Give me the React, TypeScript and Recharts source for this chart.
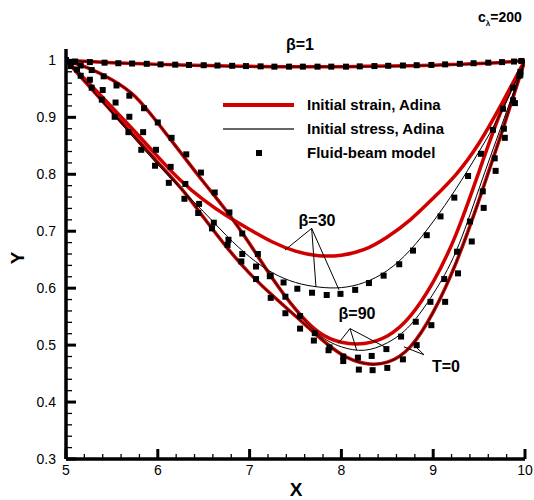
import React from "react";
import { ComposedChart, Line, Scatter, XAxis, YAxis, ReferenceLine, Customized } from "recharts";

// x grid shared by the Adina curves
const lineX = [5, 5.25, 5.5, 5.75, 6, 6.25, 6.5, 6.75, 7, 7.25, 7.5, 7.75, 8, 8.25, 8.5, 8.75, 9, 9.25, 9.5, 9.75, 10];

const beta1Strain = [1.0, 0.998, 0.996, 0.9945, 0.993, 0.992, 0.991, 0.99, 0.9895, 0.989, 0.989, 0.989, 0.989, 0.9895, 0.99, 0.9905, 0.9915, 0.993, 0.9945, 0.9965, 1.0];
const beta1Stress = [1.0, 0.998, 0.9958, 0.9942, 0.9927, 0.9916, 0.9906, 0.9896, 0.989, 0.9886, 0.9885, 0.9885, 0.9886, 0.989, 0.9896, 0.9903, 0.9912, 0.9926, 0.9942, 0.9963, 1.0];
const beta30Strain = [1.0, 0.96, 0.918, 0.875, 0.831, 0.789, 0.755, 0.727, 0.703, 0.681, 0.665, 0.657, 0.658, 0.668, 0.69, 0.72, 0.758, 0.8, 0.855, 0.925, 1.0];
const beta30Stress = [1.0, 0.955, 0.908, 0.862, 0.817, 0.775, 0.734, 0.692, 0.655, 0.627, 0.61, 0.602, 0.601, 0.61, 0.631, 0.667, 0.717, 0.775, 0.84, 0.912, 1.0];
const beta90Strain = [1.0, 0.986, 0.966, 0.937, 0.89, 0.838, 0.786, 0.735, 0.678, 0.617, 0.563, 0.523, 0.505, 0.503, 0.516, 0.551, 0.611, 0.695, 0.805, 0.915, 1.0];
const beta90Stress = [1.0, 0.986, 0.966, 0.937, 0.89, 0.838, 0.786, 0.735, 0.678, 0.617, 0.563, 0.519, 0.497, 0.491, 0.504, 0.535, 0.59, 0.665, 0.775, 0.888, 1.0];
const t0Curve = [1.0, 0.955, 0.91, 0.866, 0.821, 0.776, 0.724, 0.672, 0.626, 0.587, 0.551, 0.515, 0.484, 0.468, 0.47, 0.497, 0.558, 0.645, 0.755, 0.875, 1.0];

// fluid-beam model nodes
const beta1SqX = [5.0, 5.1, 5.26, 5.42, 5.57, 5.72, 5.88, 6.03, 6.19, 6.34, 6.5, 6.65, 6.81, 6.96, 7.12, 7.27, 7.43, 7.58, 7.74, 7.89, 8.05, 8.2, 8.36, 8.51, 8.67, 8.82, 8.98, 9.13, 9.29, 9.44, 9.6, 9.75, 9.88, 9.96];
const beta1SqY = [1.0, 0.998, 0.997, 0.996, 0.995, 0.9945, 0.994, 0.993, 0.9925, 0.992, 0.9915, 0.991, 0.9905, 0.99, 0.9895, 0.989, 0.989, 0.989, 0.989, 0.989, 0.989, 0.9895, 0.99, 0.9905, 0.991, 0.9915, 0.992, 0.993, 0.994, 0.995, 0.996, 0.997, 0.998, 0.999];

const beta30SqX = [5.0, 5.12, 5.26, 5.4, 5.54, 5.69, 5.84, 5.98, 6.14, 6.3, 6.45, 6.61, 6.77, 6.92, 7.07, 7.22, 7.37, 7.52, 7.68, 7.84, 7.99, 8.15, 8.3, 8.46, 8.63, 8.78, 8.93, 9.08, 9.23, 9.38, 9.52, 9.65, 9.76, 9.87, 9.95];
const beta30SqY = [1.0, 0.984, 0.966, 0.948, 0.926, 0.901, 0.874, 0.843, 0.813, 0.783, 0.748, 0.715, 0.685, 0.66, 0.638, 0.621, 0.61, 0.599, 0.592, 0.588, 0.59, 0.597, 0.609, 0.622, 0.642, 0.666, 0.693, 0.726, 0.759, 0.797, 0.836, 0.878, 0.915, 0.952, 0.98];

const beta90SqX = [5.0, 5.06, 5.16, 5.28, 5.41, 5.55, 5.69, 5.85, 6.0, 6.15, 6.31, 6.47, 6.62, 6.78, 6.92, 7.09, 7.23, 7.39, 7.55, 7.71, 7.87, 8.02, 8.18, 8.33, 8.49, 8.65, 8.81, 8.97, 9.12, 9.26, 9.4, 9.54, 9.67, 9.77, 9.87, 9.95];
const beta90SqY = [1.0, 0.997, 0.991, 0.983, 0.972, 0.956, 0.938, 0.916, 0.891, 0.864, 0.835, 0.803, 0.768, 0.733, 0.696, 0.66, 0.622, 0.585, 0.551, 0.521, 0.496, 0.48, 0.478, 0.481, 0.493, 0.515, 0.541, 0.576, 0.616, 0.664, 0.717, 0.77, 0.828, 0.88, 0.93, 0.975];

const t0SqX = [5.0, 5.05, 5.16, 5.28, 5.39, 5.53, 5.68, 5.82, 5.97, 6.12, 6.29, 6.44, 6.59, 6.76, 6.91, 7.07, 7.23, 7.39, 7.55, 7.7, 7.86, 8.02, 8.19, 8.34, 8.5, 8.67, 8.82, 8.98, 9.13, 9.27, 9.42, 9.55, 9.68, 9.78, 9.89, 9.94];
const t0SqY = [1.0, 0.99, 0.973, 0.952, 0.931, 0.901, 0.874, 0.843, 0.815, 0.785, 0.757, 0.732, 0.705, 0.676, 0.647, 0.616, 0.583, 0.556, 0.529, 0.508, 0.491, 0.472, 0.457, 0.456, 0.46, 0.475, 0.5, 0.535, 0.576, 0.626, 0.682, 0.741, 0.806, 0.864, 0.925, 0.973];

// callout leader lines (data coords): [apex, target]
const callouts = [
  [[7.676, 0.705], [7.386, 0.667]],
  [[7.676, 0.705], [7.723, 0.602]],
  [[7.676, 0.705], [7.974, 0.597]],
  [[8.094, 0.529], [7.966, 0.503]],
  [[8.094, 0.529], [8.167, 0.491]],
  [[8.094, 0.529], [8.494, 0.495]],
  [[8.9, 0.483], [8.68, 0.497]],
  [[8.9, 0.483], [8.79, 0.5]],
];

const xTicks = Array.from({ length: 26 }, (_, i) => Math.round((5 + i * 0.2) * 100) / 100);
const yTicks = Array.from({ length: 36 }, (_, i) => Math.round((0.3 + i * 0.02) * 1000) / 1000);

const RED = "#d10000";
const FONT = "'Liberation Sans', Arial, Helvetica, sans-serif";

const pts = (xs: number[], ys: number[]) => xs.map((x, i) => ({ x, y: ys[i] }));

function XTick({ x, y, payload }: any) {
  const v = payload.value;
  const major = Math.abs(v - Math.round(v)) < 1e-6;
  return (
    <g>
      <line x1={x} x2={x} y1={y} y2={y - (major ? 10 : 5)} stroke="#000" strokeWidth={major ? 3 : 1.3} />
      {major && (
        <text x={x} y={y + 16} textAnchor="middle" fontSize={14} fontFamily={FONT} fill="#000">
          {String(v)}
        </text>
      )}
    </g>
  );
}

function YTick({ x, y, payload }: any) {
  const v = payload.value;
  const major = Math.abs(v * 10 - Math.round(v * 10)) < 1e-6;
  return (
    <g>
      <line x1={x} x2={x + (major ? 10 : 6)} y1={y} y2={y} stroke="#000" strokeWidth={major ? 3 : 1.3} />
      {major && (
        <text x={x - 10} y={y + 5} textAnchor="end" fontSize={14} fontFamily={FONT} fill="#000">
          {v === 1 ? "1" : v.toFixed(1)}
        </text>
      )}
    </g>
  );
}

const Square = ({ cx, cy }: any) => <rect x={cx - 3} y={cy - 3} width={6} height={6} fill="#000" />;

function Annotations() {
  const bold = { fontFamily: FONT, fontWeight: "bold" as const, fill: "#000" };
  return (
    <g>
      <line x1={223} x2={294} y1={105} y2={105} stroke={RED} strokeWidth={4} />
      <text x={307} y={110} fontSize={15} {...bold}>Initial strain, Adina</text>
      <line x1={223} x2={294} y1={129} y2={129} stroke="#333" strokeWidth={1.3} />
      <text x={307} y={134} fontSize={15} {...bold}>Initial stress, Adina</text>
      <rect x={256} y={150} width={6} height={6} fill="#000" />
      <text x={307} y={158} fontSize={15} {...bold}>Fluid-beam model</text>

      <text x={300} y={50} textAnchor="middle" fontSize={16} {...bold}>β=1</text>
      <text x={317} y={226} textAnchor="middle" fontSize={16} {...bold}>β=30</text>
      <text x={357} y={319} textAnchor="middle" fontSize={16} {...bold}>β=90</text>
      <text x={446} y={372} textAnchor="middle" fontSize={16} {...bold}>T=0</text>
      <text x={478} y={22} fontSize={14} {...bold}>
        c<tspan fontSize={8} dy={4}>λ</tspan>
        <tspan dy={-4} fontSize={14}>=200</tspan>
      </text>

      <text x={296} y={496} textAnchor="middle" fontSize={19} {...bold}>X</text>
      <text transform="translate(24,258) rotate(-90)" textAnchor="middle" fontSize={19} {...bold}>Y</text>
    </g>
  );
}

export default function App() {
  const strain = [beta1Strain, beta30Strain, beta90Strain, t0Curve];
  const stress = [beta1Stress, beta30Stress, beta90Stress, t0Curve];
  const squares = [
    pts(beta1SqX, beta1SqY),
    pts(beta30SqX, beta30SqY),
    pts(beta90SqX, beta90SqY),
    pts(t0SqX, t0SqY),
  ];

  return (
    <div style={{ position: "absolute", left: 0, top: 0, background: "#fff" }}>
      <ComposedChart width={534} height={500} margin={{ top: 49, right: 9, bottom: 0, left: 0 }}>
        <XAxis
          type="number"
          dataKey="x"
          domain={[5, 10]}
          ticks={xTicks}
          interval={0}
          height={41}
          tickSize={0}
          tickMargin={0}
          tick={<XTick />}
          axisLine={{ stroke: "#000", strokeWidth: 3.5 }}
          allowDataOverflow
        />
        <YAxis
          type="number"
          domain={[0.3, 1.02]}
          ticks={yTicks}
          interval={0}
          width={66}
          tickSize={0}
          tickMargin={0}
          tick={<YTick />}
          axisLine={{ stroke: "#000", strokeWidth: 3.5 }}
          allowDataOverflow
        />
        {strain.map((ys, i) => (
          <Line
            key={`strain-${i}`}
            data={pts(lineX, ys)}
            dataKey="y"
            type="natural"
            stroke={RED}
            strokeWidth={3.5}
            dot={false}
            activeDot={false}
            isAnimationActive={false}
          />
        ))}
        {stress.map((ys, i) => (
          <Line
            key={`stress-${i}`}
            data={pts(lineX, ys)}
            dataKey="y"
            type="natural"
            stroke="#000"
            strokeWidth={1}
            dot={false}
            activeDot={false}
            isAnimationActive={false}
          />
        ))}
        {callouts.map(([a, b], i) => (
          <ReferenceLine
            key={`c-${i}`}
            segment={[{ x: a[0], y: a[1] }, { x: b[0], y: b[1] }]}
            stroke="#000"
            strokeWidth={1}
          />
        ))}
        {squares.map((d, i) => (
          <Scatter key={`sq-${i}`} data={d} dataKey="y" shape={Square} isAnimationActive={false} />
        ))}
        <Customized component={Annotations} />
      </ComposedChart>
    </div>
  );
}
